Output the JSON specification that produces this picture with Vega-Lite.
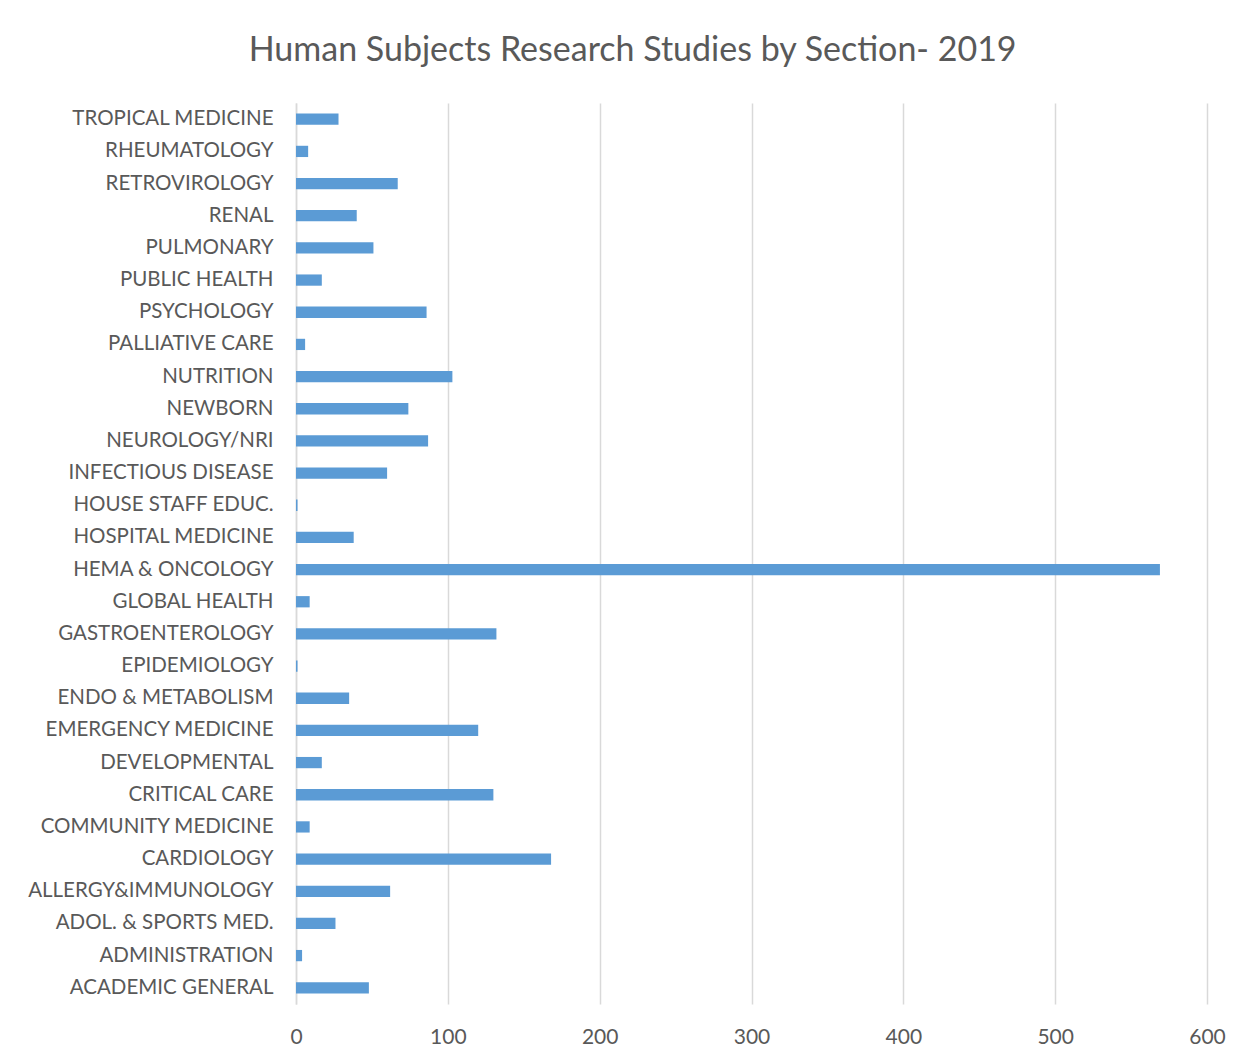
{
  "$schema": "https://vega.github.io/schema/vega-lite/v6.json",
  "width": 911,
  "height": 901,
  "padding": {"left": 16, "top": 34, "right": 10, "bottom": 10},
  "background": "white",
  "title": {
    "text": "Human Subjects Research Studies by Section- 2019",
    "font": "Lato",
    "fontSize": 34,
    "fontWeight": "normal",
    "color": "#595959",
    "anchor": "middle",
    "frame": "bounds",
    "dx": 12,
    "offset": 35
  },
  "data": {
    "values": [
      {"section": "ACADEMIC GENERAL", "studies": 48},
      {"section": "ADMINISTRATION", "studies": 4},
      {"section": "ADOL. & SPORTS MED.", "studies": 26},
      {"section": "ALLERGY&IMMUNOLOGY", "studies": 62},
      {"section": "CARDIOLOGY", "studies": 168},
      {"section": "COMMUNITY MEDICINE", "studies": 9},
      {"section": "CRITICAL CARE", "studies": 130},
      {"section": "DEVELOPMENTAL", "studies": 17},
      {"section": "EMERGENCY MEDICINE", "studies": 120},
      {"section": "ENDO & METABOLISM", "studies": 35},
      {"section": "EPIDEMIOLOGY", "studies": 1},
      {"section": "GASTROENTEROLOGY", "studies": 132},
      {"section": "GLOBAL HEALTH", "studies": 9},
      {"section": "HEMA & ONCOLOGY", "studies": 569},
      {"section": "HOSPITAL MEDICINE", "studies": 38},
      {"section": "HOUSE STAFF EDUC.", "studies": 1},
      {"section": "INFECTIOUS DISEASE", "studies": 60},
      {"section": "NEUROLOGY/NRI", "studies": 87},
      {"section": "NEWBORN", "studies": 74},
      {"section": "NUTRITION", "studies": 103},
      {"section": "PALLIATIVE CARE", "studies": 6},
      {"section": "PSYCHOLOGY", "studies": 86},
      {"section": "PUBLIC HEALTH", "studies": 17},
      {"section": "PULMONARY", "studies": 51},
      {"section": "RENAL", "studies": 40},
      {"section": "RETROVIROLOGY", "studies": 67},
      {"section": "RHEUMATOLOGY", "studies": 8},
      {"section": "TROPICAL MEDICINE", "studies": 28}
    ]
  },
  "mark": {"type": "bar", "color": "#5B9BD5"},
  "encoding": {
    "y": {
      "field": "section",
      "type": "nominal",
      "sort": "descending",
      "scale": {"paddingInner": 0.65, "paddingOuter": 0.33},
      "axis": {
        "title": null,
        "ticks": false,
        "domainColor": "#d9d9d9",
        "domainWidth": 1.5,
        "labelFont": "Lato",
        "labelFontSize": 20.5,
        "labelColor": "#595959",
        "labelPadding": 23,
        "labelLimit": 400,
        "minExtent": 280,
        "maxExtent": 280,
        "grid": false
      }
    },
    "x": {
      "field": "studies",
      "type": "quantitative",
      "scale": {"domain": [0, 600], "nice": false},
      "axis": {
        "title": null,
        "values": [0, 100, 200, 300, 400, 500, 600],
        "domain": false,
        "ticks": false,
        "grid": true,
        "gridColor": "#d9d9d9",
        "gridWidth": 1.5,
        "labelFont": "Lato",
        "labelFontSize": 21,
        "labelColor": "#595959",
        "labelPadding": 22,
        "labelFlush": false
      }
    }
  },
  "config": {"view": {"stroke": null}}
}
